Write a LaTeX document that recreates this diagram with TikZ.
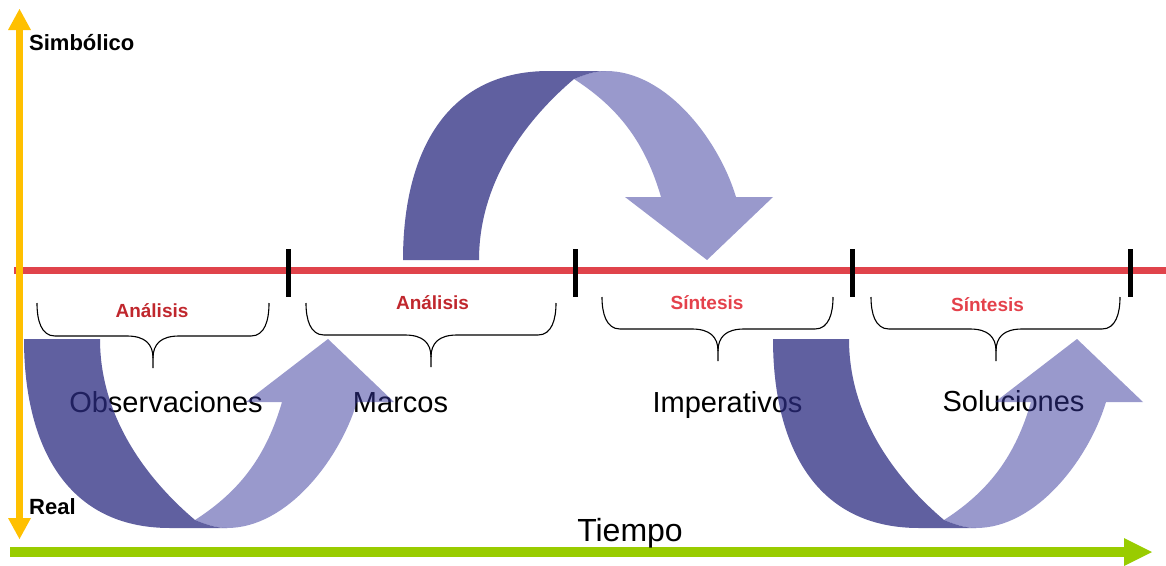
\documentclass[tikz,border=0pt]{standalone}
\usepackage{fontspec}
\setmainfont{Liberation Sans}
\definecolor{axisyellow}{HTML}{FFC000}
\definecolor{timegreen}{HTML}{99CC00}
\definecolor{redline}{HTML}{E0434B}
\definecolor{analred}{HTML}{C0272D}
\definecolor{sinred}{HTML}{E4414B}
\definecolor{darkbase}{HTML}{2B2B80}
\definecolor{lightbase}{HTML}{333399}
\tikzset{
  darkband/.style={fill=darkbase, fill opacity=0.75},
  lightband/.style={fill=lightbase, fill opacity=0.5},
  bracestyle/.style={draw=black, line width=1.1pt},
  tickmark/.style={draw=black, line width=5pt},
  bigtext/.style={font=\fontsize{29}{34}\selectfont, inner sep=0pt, anchor=base},
  axistext/.style={font=\bfseries\fontsize{22}{26}\selectfont, inner sep=0pt, anchor=base west},
  phasetext/.style={font=\bfseries\fontsize{19}{22}\selectfont, inner sep=0pt, anchor=base}
}
\newcommand{\BandArrow}{%
  \fill[darkband] (0,0) .. controls (0,103) and (40,189) .. (146,189) -- (203,189)
     .. controls (193,189) and (183,186) .. (171,181)
     .. controls (125,142) and (76,80) .. (76,0) -- cycle;
  \fill[lightband] (171,181) .. controls (183,186) and (193,189) .. (203,189)
     .. controls (263,189) and (315.6,120.6) .. (333,63) -- (370,63) -- (304,0) -- (222,63) -- (258,63)
     .. controls (242.6,115.8) and (217.2,151.3) .. (171,181) -- cycle;
}
\newcommand{\Llave}[5]{%
  \draw[bracestyle] (#1,#3) .. controls (#1,#4-16) and (#1+4,#4) .. (#1+18,#4) -- (#5-26,#4) .. controls (#5-8,#4) and (#5,#4+8) .. (#5,#4+22) -- (#5,#4+32);
  \draw[bracestyle] (#2,#3) .. controls (#2,#4-16) and (#2-4,#4) .. (#2-18,#4) -- (#5+26,#4) .. controls (#5+8,#4) and (#5,#4+8) .. (#5,#4+22);
}
\begin{document}
\begin{tikzpicture}[x=1pt,y=-1pt]
\useasboundingbox (0,0) rectangle (1166,565);
% red line and ticks
\coordinate (rl) at (14,270);
\coordinate (rr) at (1166,270);
\draw[redline, line width=7pt] (rl) -- (rr);
\foreach \tx in {288,575,852,1130} {\draw[tickmark] (\tx,249) -- (\tx,297);}
% yellow vertical axis
\coordinate (ytop) at (19.5,30);
\coordinate (ybot) at (19.5,518);
\draw[axisyellow, line width=7pt] (ytop) -- (ybot);
\fill[axisyellow] (8,30) -- (19.5,9) -- (31,30) -- cycle;
\fill[axisyellow] (8,518) -- (19.5,539) -- (31,518) -- cycle;
% green time axis
\coordinate (gl) at (10,552);
\coordinate (gr) at (1124,552);
\draw[timegreen, line width=10pt] (gl) -- (gr);
\fill[timegreen] (1124,538) -- (1152,552) -- (1124,566) -- cycle;
% braces
\Llave{37}{269}{303}{336}{153}
\Llave{306}{556}{303}{335}{431}
\Llave{602}{833}{297}{329}{718}
\Llave{871}{1120}{297}{329}{996}
% labels
\node[axistext] (simb) at (29,50) {Simbólico};
\node[axistext] (real) at (29,514) {Real};
\node[phasetext, text=analred] (an1) at (152,317) {Análisis};
\node[phasetext, text=analred] (an2) at (432.5,309) {Análisis};
\node[phasetext, text=sinred] (si1) at (707,309) {Síntesis};
\node[phasetext, text=sinred] (si2) at (987.5,311) {Síntesis};
\node[bigtext] (obs) at (166,412) {Observaciones};
\node[bigtext] (mar) at (400.5,412) {Marcos};
\node[bigtext] (imp) at (727.5,412) {Imperativos};
\node[bigtext] (sol) at (1013.5,411) {Soluciones};
\node[bigtext, font=\fontsize{32}{38}\selectfont] (tie) at (630,541) {Tiempo};
% band arrows
\begin{scope}[shift={(24,339)}]\BandArrow\end{scope}
\begin{scope}[shift={(773,339)}]\BandArrow\end{scope}
\begin{scope}[shift={(403,260)}, yscale=-1]\BandArrow\end{scope}
\end{tikzpicture}
\end{document}
